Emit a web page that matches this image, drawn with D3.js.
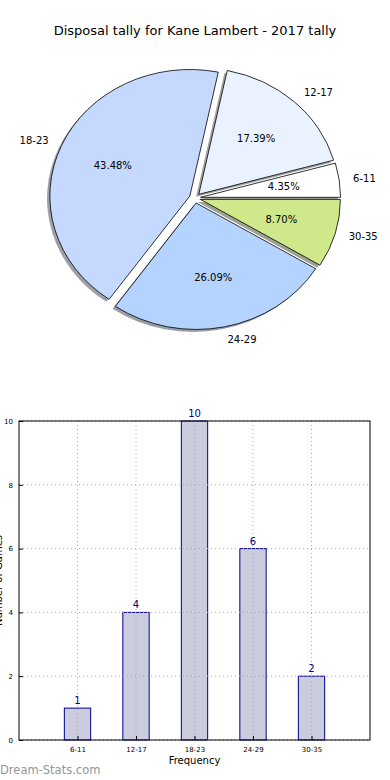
<!DOCTYPE html>
<html><head><meta charset="utf-8">
<script src="https://cdn.jsdelivr.net/npm/d3@7/dist/d3.min.js"></script>
<style>
html,body{margin:0;padding:0;background:#fff;}
svg{display:block;font-family:"DejaVu Sans",sans-serif;}
</style></head>
<body>
<script>
const title = "Disposal tally for Kane Lambert - 2017 tally";
const categories = ["6-11","12-17","18-23","24-29","30-35"];
const counts = [1,4,10,6,2];
const pieColors = ["#ffffff","#eaf1ff","#c5d9ff","#b4d4ff","#cfe98a"];
const yTicks = [0,2,4,6,8,10];
const xLabel = "Frequency";
const yLabel = "Number of Games";
const watermark = "Dream-Stats.com";

const W = 390, H = 780;
const svg = d3.select("body").append("svg").attr("width", W).attr("height", H);

svg.append("text").attr("x", 195).attr("y", 35).attr("text-anchor","middle")
  .attr("font-size", 13).attr("fill","#000").text(title);

// ---------- Pie ----------
const cx = 195, cy = 198, rx = 140, ry = 126.5, explode = 0.04, shadowOff = 0.02;
const total = d3.sum(counts);
const pie = d3.pie().sort(null).value(d => d).startAngle(Math.PI/2).endAngle(Math.PI/2 - 2*Math.PI);
const arcs = pie(counts);
const arcGen = d3.arc().innerRadius(0).outerRadius(1);

const pieG = svg.append("g");
function midTheta(a){
  const m = (a.startAngle + a.endAngle)/2;
  return Math.PI/2 - m;
}
const shadowColor = c => { const k = d3.rgb(c); return d3.rgb(k.r*0.3, k.g*0.3, k.b*0.3).toString(); };

arcs.forEach((a,i) => {
  const t = midTheta(a);
  const ox = explode*Math.cos(t) - shadowOff, oy = explode*Math.sin(t) - shadowOff;
  pieG.append("path")
    .attr("d", arcGen(a))
    .attr("transform", `translate(${cx + ox*rx},${cy - oy*ry}) scale(${rx},${ry})`)
    .attr("fill", shadowColor(pieColors[i])).attr("fill-opacity", 0.5).attr("stroke","none");
});
arcs.forEach((a,i) => {
  const t = midTheta(a);
  const ox = explode*Math.cos(t), oy = explode*Math.sin(t);
  pieG.append("path")
    .attr("d", arcGen(a))
    .attr("transform", `translate(${cx + ox*rx},${cy - oy*ry}) scale(${rx},${ry})`)
    .attr("fill", pieColors[i]).attr("stroke","#000").attr("stroke-width",0.8)
    .attr("vector-effect","non-scaling-stroke").attr("stroke-linejoin","round");
});
arcs.forEach((a,i) => {
  const t = midTheta(a);
  const ox = explode*Math.cos(t), oy = explode*Math.sin(t);
  const lx = cx + (ox + 1.1*Math.cos(t))*rx, ly = cy - (oy + 1.1*Math.sin(t))*ry;
  pieG.append("text").attr("x", lx).attr("y", ly).attr("dy","0.35em")
    .attr("text-anchor", Math.cos(t) > 0 ? "start" : "end")
    .attr("font-size", 10).attr("fill","#000").text(categories[i]);
  const px = cx + (ox + 0.6*Math.cos(t))*rx, py = cy - (oy + 0.6*Math.sin(t))*ry;
  pieG.append("text").attr("x", px).attr("y", py).attr("dy","0.35em")
    .attr("text-anchor","middle").attr("font-size",10).attr("fill","#000")
    .text((counts[i]/total*100).toFixed(2) + "%");
});

// ---------- Bar chart ----------
const L = 19, R = 370, T = 421, B = 740;
const x = d3.scaleLinear().domain([0, categories.length + 1]).range([L, R]);
const y = d3.scaleLinear().domain([0, 10]).range([B, T]);
const barW = 0.45;
const bg = svg.append("g");

bg.selectAll("rect.bar").data(counts).enter().append("rect")
  .attr("x", (d,i) => x(i+1 - barW/2)).attr("width", x(barW) - x(0))
  .attr("y", d => y(d)).attr("height", d => y(0) - y(d))
  .attr("fill","#ccccdf").attr("stroke","#00008b").attr("stroke-width",1);

bg.selectAll("line.hg").data(yTicks).enter().append("line")
  .attr("x1", L).attr("x2", R).attr("y1", d => y(d)).attr("y2", d => y(d))
  .attr("stroke","#aaaaaa").attr("stroke-width",1).attr("stroke-dasharray","1,3");
bg.selectAll("line.vg").data(categories).enter().append("line")
  .attr("x1", (d,i) => x(i+1)).attr("x2", (d,i) => x(i+1)).attr("y1", T).attr("y2", B)
  .attr("stroke","#aaaaaa").attr("stroke-width",1).attr("stroke-dasharray","1,3");

bg.append("rect").attr("x", L).attr("y", T).attr("width", R-L).attr("height", B-T)
  .attr("fill","none").attr("stroke","#000").attr("stroke-width",1);

const yAxis = d3.axisLeft(y).tickValues(yTicks).tickSize(-4).tickPadding(6).tickFormat(d3.format("d"));
const yg = bg.append("g").attr("transform", `translate(${L},0)`).call(yAxis);
yg.select(".domain").remove();
yg.selectAll("text").attr("font-size", 7).attr("font-family","DejaVu Sans").attr("fill","#000");
yg.selectAll("line").attr("stroke","#000");

const xAxis = d3.axisBottom(x).tickValues(d3.range(1, categories.length+1))
  .tickFormat(d => categories[d-1]).tickSize(-4).tickPadding(7);
const xg = bg.append("g").attr("transform", `translate(0,${B})`).call(xAxis);
xg.select(".domain").remove();
xg.selectAll("text").attr("font-size", 7).attr("font-family","DejaVu Sans").attr("fill","#000");
xg.selectAll("line").attr("stroke","#000");

bg.selectAll("text.val").data(counts).enter().append("text")
  .attr("x", (d,i) => x(i+1)).attr("y", d => y(d) - 4)
  .attr("text-anchor","middle").attr("font-size",10).attr("fill","#00008b").text(d => d);

svg.append("text").attr("x", (L+R)/2).attr("y", 764).attr("text-anchor","middle")
  .attr("font-size", 10).attr("fill","#000").text(xLabel);

svg.append("text").attr("transform", `translate(2,${(T+B)/2}) rotate(-90)`)
  .attr("text-anchor","middle").attr("font-size",10).attr("fill","#000").text(yLabel);

svg.append("text").attr("x", 0).attr("y", 774).attr("font-size", 11.5)
  .attr("fill","#959595").text(watermark);
</script>
</body></html>
